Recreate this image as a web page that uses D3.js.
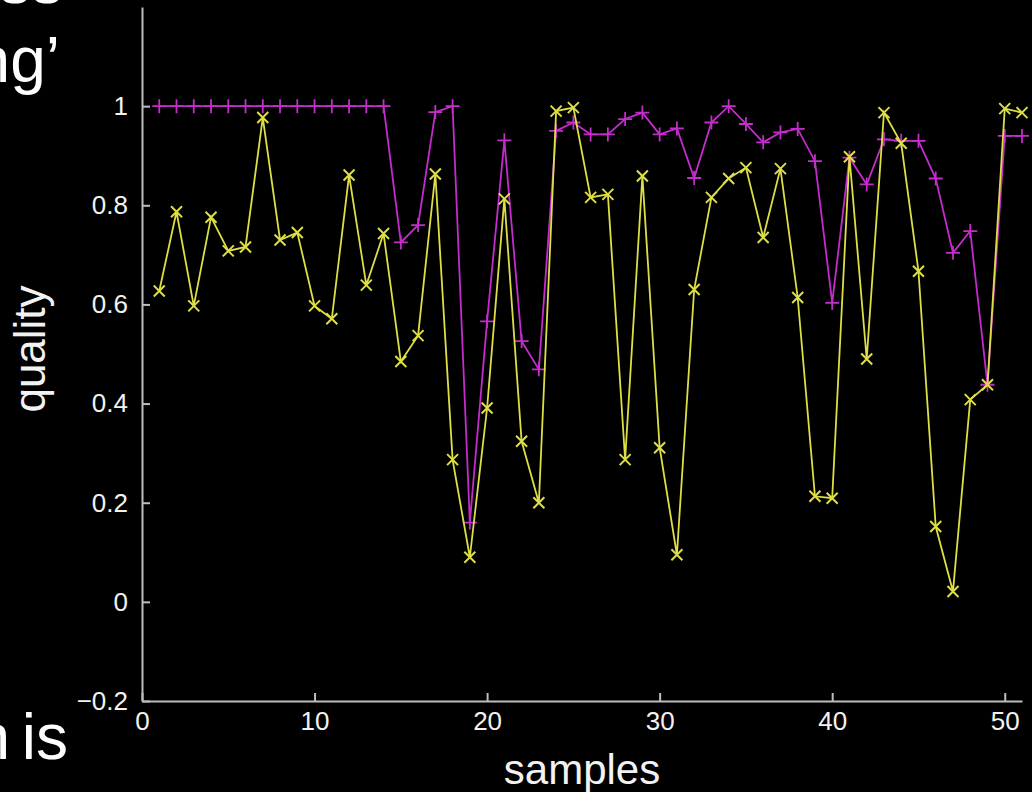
<!DOCTYPE html>
<html>
<head>
<meta charset="utf-8">
<script src="https://cdn.jsdelivr.net/npm/d3@7"></script>
<style>
  html, body { margin: 0; padding: 0; background: #000; }
  svg { display: block; }
  .axis path, .axis line { stroke: #bdbdbd; stroke-width: 2; }
  .axis text { fill: #f2f2f2; font-family: "Liberation Sans", Arial, sans-serif; font-size: 26px; }
  .label { fill: #f2f2f2; font-family: "Liberation Sans", Arial, sans-serif; }
  .slide { fill: #fff; font-family: "Liberation Sans", Arial, sans-serif; font-size: 64px; }
</style>
</head>
<body>
<div id="chart"></div>
<script>
  // sample index 1..51
  const samples = d3.range(1, 52);

  // magenta series, '+' markers
  const qualityPlus = [1, 1, 1, 1, 1, 1, 1, 1, 1, 1, 1, 1, 1, 1,
    0.725, 0.76, 0.988, 1.0, 0.16, 0.566, 0.931, 0.526, 0.469, 0.95,
    0.967, 0.943, 0.943, 0.974, 0.987, 0.943, 0.955, 0.855, 0.967, 1.0,
    0.964, 0.927, 0.947, 0.954, 0.889, 0.603, 0.896, 0.842, 0.933, 0.93,
    0.93, 0.854, 0.704, 0.748, 0.438, 0.94, 0.94];

  // yellow series, 'x' markers
  const qualityCross = [0.627, 0.787, 0.597, 0.776, 0.708, 0.716, 0.977, 0.730, 0.745, 0.597,
    0.571, 0.861, 0.639, 0.743, 0.485, 0.537, 0.863, 0.287, 0.09, 0.391,
    0.813, 0.324, 0.2, 0.99, 0.997, 0.816, 0.822, 0.287, 0.859, 0.311,
    0.095, 0.63, 0.816, 0.854, 0.876, 0.735, 0.874, 0.614, 0.213, 0.209,
    0.898, 0.49, 0.987, 0.925, 0.667, 0.152, 0.021, 0.408, 0.438, 0.995, 0.987];

  const xTicks = [0, 10, 20, 30, 40, 50];
  const yTicks = [-0.2, 0, 0.2, 0.4, 0.6, 0.8, 1];

  const width = 1032, height = 792;
  const margin = { top: 7, right: 10, bottom: 91, left: 142 };

  const svg = d3.select("#chart").append("svg")
      .attr("width", width)
      .attr("height", height);

  // slide text cut off at the left edge (as in the source)
  svg.append("text").attr("class", "slide").attr("x", 63).attr("y", 3).attr("text-anchor", "end").text("ss");
  svg.append("text").attr("class", "slide").attr("x", 60).attr("y", 82).attr("text-anchor", "end").text("ng’");
  svg.append("text").attr("class", "slide").attr("x", 68).attr("y", 759).attr("text-anchor", "end")
      .style("word-spacing", "-6px").text("n is");

  const x = d3.scaleLinear().domain([0, 51]).range([margin.left, width - margin.right]);
  const y = d3.scaleLinear().domain([-0.2, 1.2]).range([height - margin.bottom, margin.top]);

  const fmt = (d) => d < 0 ? "\u2212" + Math.abs(d) : String(d);

  svg.append("g")
      .attr("class", "axis")
      .attr("transform", "translate(0," + y(-0.2) + ")")
      .call(d3.axisBottom(x).tickValues(xTicks).tickSizeInner(-8).tickSizeOuter(0).tickPadding(11).tickFormat(fmt));

  svg.append("g")
      .attr("class", "axis")
      .attr("transform", "translate(" + x(0) + ",0)")
      .call(d3.axisLeft(y).tickValues(yTicks).tickSizeInner(-8).tickSizeOuter(0).tickPadding(14).tickFormat(fmt));

  svg.append("text")
      .attr("class", "label")
      .attr("x", 582).attr("y", 784)
      .attr("text-anchor", "middle")
      .style("font-size", "42px")
      .text("samples");

  svg.append("text")
      .attr("class", "label")
      .attr("transform", "translate(45,349) rotate(-90)")
      .attr("text-anchor", "middle")
      .style("font-size", "44px")
      .text("quality");

  const line = d3.line()
      .x((d, i) => x(samples[i]))
      .y((d) => y(d));

  const magenta = "#c42ccc";
  const yellow = "#dede46";

  svg.append("path")
      .datum(qualityPlus)
      .attr("fill", "none")
      .attr("stroke", magenta)
      .attr("stroke-width", 1.8)
      .attr("d", line);

  svg.selectAll(".plus")
      .data(qualityPlus)
      .enter().append("path")
      .attr("class", "plus")
      .attr("transform", (d, i) => "translate(" + x(samples[i]) + "," + y(d) + ")")
      .attr("d", "M-7,0H7M0,-7V7")
      .attr("stroke", magenta)
      .attr("stroke-width", 1.8);

  svg.append("path")
      .datum(qualityCross)
      .attr("fill", "none")
      .attr("stroke", yellow)
      .attr("stroke-width", 1.8)
      .attr("d", line);

  svg.selectAll(".cross")
      .data(qualityCross)
      .enter().append("path")
      .attr("class", "cross")
      .attr("transform", (d, i) => "translate(" + x(samples[i]) + "," + y(d) + ")")
      .attr("d", "M-5.5,-5.5L5.5,5.5M-5.5,5.5L5.5,-5.5")
      .attr("stroke", yellow)
      .attr("stroke-width", 2);
</script>
</body>
</html>
